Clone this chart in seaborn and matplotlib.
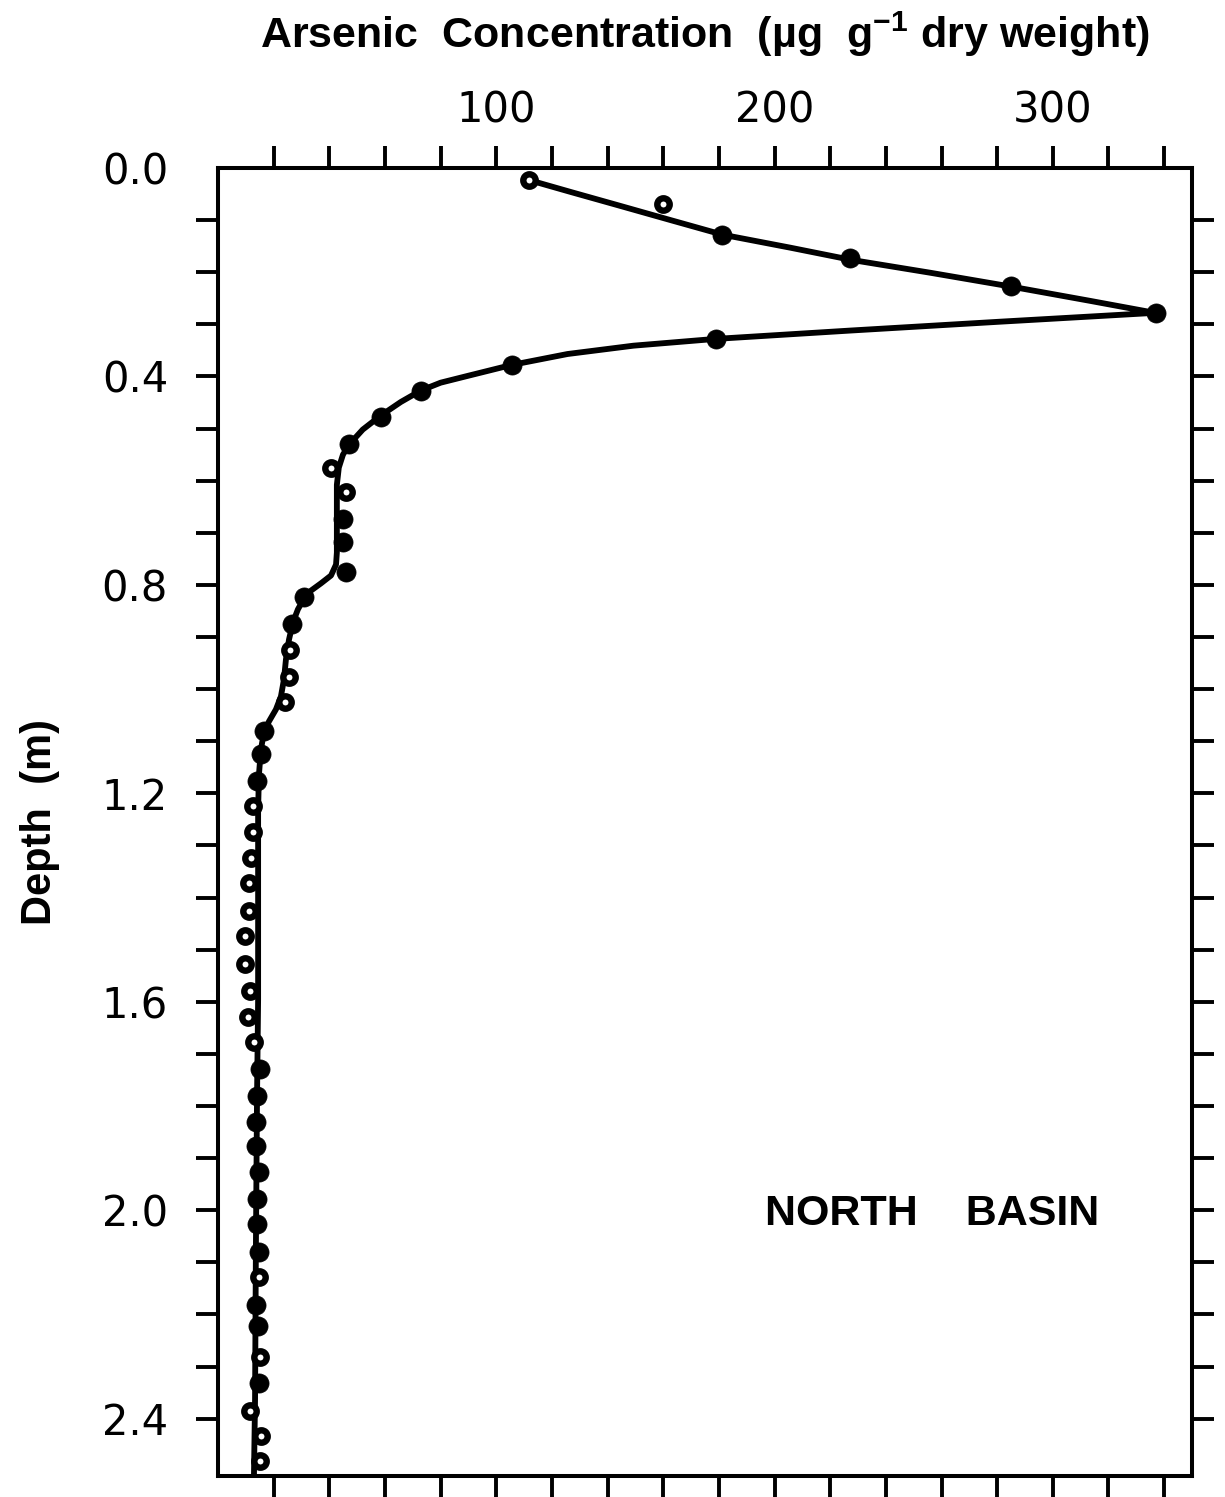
import numpy as np
import pandas as pd
import matplotlib
matplotlib.use("Agg")
import matplotlib.pyplot as plt
import seaborn as sns
from matplotlib.ticker import FixedLocator, FixedFormatter

# Core samples: depth below sediment surface (m) and arsenic (ug/g dry weight)
depth = [0.023, 0.069, 0.128, 0.173, 0.227, 0.278, 0.328, 0.378, 0.428, 0.477,
         0.529, 0.575, 0.621, 0.673, 0.717, 0.776, 0.824, 0.876, 0.924, 0.976,
         1.025, 1.081, 1.125, 1.177, 1.225, 1.275, 1.325, 1.373, 1.426, 1.474,
         1.527, 1.579, 1.629, 1.677, 1.729, 1.781, 1.831, 1.877, 1.927, 1.978,
         2.027, 2.080, 2.129, 2.182, 2.222, 2.281, 2.332, 2.386, 2.434, 2.482]
conc = [111.6, 160.0, 181.0, 227.0, 285.0, 337.0, 179.0, 105.5, 73.0, 58.5,
        47.0, 40.5, 46.0, 45.0, 45.0, 46.0, 31.0, 26.5, 26.0, 25.5,
        24.0, 16.5, 15.5, 14.0, 12.5, 12.5, 12.0, 11.0, 11.0, 9.7,
        9.7, 11.5, 10.8, 12.8, 15.0, 14.0, 13.6, 13.6, 14.7, 14.0,
        14.0, 14.7, 14.7, 13.6, 14.4, 15.0, 14.7, 11.4, 15.4, 15.0]
hollow = [True, True, False, False, False, False, False, False, False, False,
          False, True, True, False, False, False, False, False, True, True,
          True, False, False, False, True, True, True, True, True, True,
          True, True, True, True, False, False, False, False, False, False,
          False, False, True, False, False, True, False, True, True, True]

# Smoothed profile drawn through the samples
curve_depth = [0.023, 0.046, 0.073, 0.100, 0.128, 0.153, 0.176, 0.201, 0.228, 0.255,
               0.278, 0.295, 0.312, 0.328, 0.341, 0.357, 0.378, 0.399, 0.412, 0.427,
               0.449, 0.475, 0.502, 0.529, 0.550, 0.575, 0.608, 0.650, 0.738, 0.761,
               0.782, 0.797, 0.811, 0.826, 0.847, 0.872, 0.905, 0.943, 0.981, 1.014,
               1.039, 1.062, 1.083, 1.116, 1.164, 1.231, 1.307, 1.595, 1.787, 2.074,
               2.362, 2.511]
curve_conc = [111.6, 126.7, 144.7, 162.6, 181.3, 205.7, 227.2, 255.9, 285.4, 313.4,
              336.7, 281.0, 227.2, 178.8, 149.3, 125.6, 105.5, 89.7, 80.0, 72.9,
              65.7, 58.5, 52.0, 47.4, 44.9, 43.4, 42.7, 42.7, 42.7, 42.4,
              40.6, 37.0, 33.4, 30.9, 28.7, 26.9, 25.5, 24.4, 23.7, 22.6,
              20.8, 18.3, 16.5, 15.4, 14.7, 14.4, 14.4, 14.4, 14.0, 13.6,
              13.3, 12.9]

x_tick_values = [20, 40, 60, 80, 100, 120, 140, 160, 180, 200,
                 220, 240, 260, 280, 300, 320, 340]
x_tick_labels = ["", "", "", "", "100", "", "", "", "", "200",
                 "", "", "", "", "300", "", ""]
y_tick_values = [0.0, 0.1, 0.2, 0.3, 0.4, 0.5, 0.6, 0.7, 0.8, 0.9, 1.0, 1.1, 1.2,
                 1.3, 1.4, 1.5, 1.6, 1.7, 1.8, 1.9, 2.0, 2.1, 2.2, 2.3, 2.4]
y_tick_labels = ["0.0", "", "", "", "0.4", "", "", "", "0.8", "", "", "", "1.2",
                 "", "", "", "1.6", "", "", "", "2.0", "", "", "", "2.4"]

samples = pd.DataFrame({"depth": depth, "conc": conc, "hollow": hollow})
profile = pd.DataFrame({"depth": curve_depth, "conc": curve_conc})

sns.set_theme(style="white")
plt.rcParams["font.family"] = ["DejaVu Sans"]
plt.rcParams["mathtext.default"] = "regular"
label_font = ["Liberation Sans", "DejaVu Sans"]

fig = plt.figure(figsize=(12.25, 14.97), dpi=100)
ax = fig.add_axes([0.178, 0.014, 0.795, 0.8738])

sns.lineplot(data=profile, x="conc", y="depth", sort=False, estimator=None,
             color="black", linewidth=4.2, ax=ax, zorder=2)

filled = samples[~samples["hollow"]]
opened = samples[samples["hollow"]]
sns.scatterplot(data=filled, x="conc", y="depth", s=190, color="black",
                edgecolor="black", linewidth=0.5, ax=ax, zorder=3)
sns.scatterplot(data=opened, x="conc", y="depth", s=80, facecolor="white",
                edgecolor="black", linewidth=4.6, ax=ax, zorder=3)

ax.set_xlim(0, 350)
ax.set_ylim(2.51, 0)

ax.xaxis.set_major_locator(FixedLocator(x_tick_values))
ax.xaxis.set_major_formatter(FixedFormatter(x_tick_labels))
ax.yaxis.set_major_locator(FixedLocator(y_tick_values))
ax.yaxis.set_major_formatter(FixedFormatter(y_tick_labels))

ax.tick_params(axis="x", which="major", top=True, bottom=True, labeltop=True,
               labelbottom=False, direction="out", length=16, width=2.8,
               color="black", labelsize=30, pad=10, labelcolor="black")
ax.tick_params(axis="y", which="major", left=True, right=True, labelleft=True,
               labelright=False, direction="out", length=16, width=2.8,
               color="black", labelsize=30, pad=20, labelcolor="black")
# no tick mark at the surface corner
ax.yaxis.get_major_ticks()[0].tick1line.set_visible(False)
ax.yaxis.get_major_ticks()[0].tick2line.set_visible(False)

for spine in ax.spines.values():
    spine.set_visible(True)
    spine.set_color("black")
    spine.set_linewidth(2.9)

ax.xaxis.set_label_position("top")
ax.set_xlabel("Arsenic  Concentration  (µg  g$^{-1}$ dry weight)",
              fontsize=31, fontweight="bold", family=label_font,
              labelpad=30, color="black")
ax.set_ylabel("Depth  (m)", fontsize=30, fontweight="bold",
              family=label_font, labelpad=30, color="black")

ax.text(196.7, 2.007, "NORTH    BASIN", fontsize=31, fontweight="bold",
        family=label_font, ha="left", va="center", color="black")

ax.grid(False)
fig.savefig("out.png", dpi=100, facecolor="white")
